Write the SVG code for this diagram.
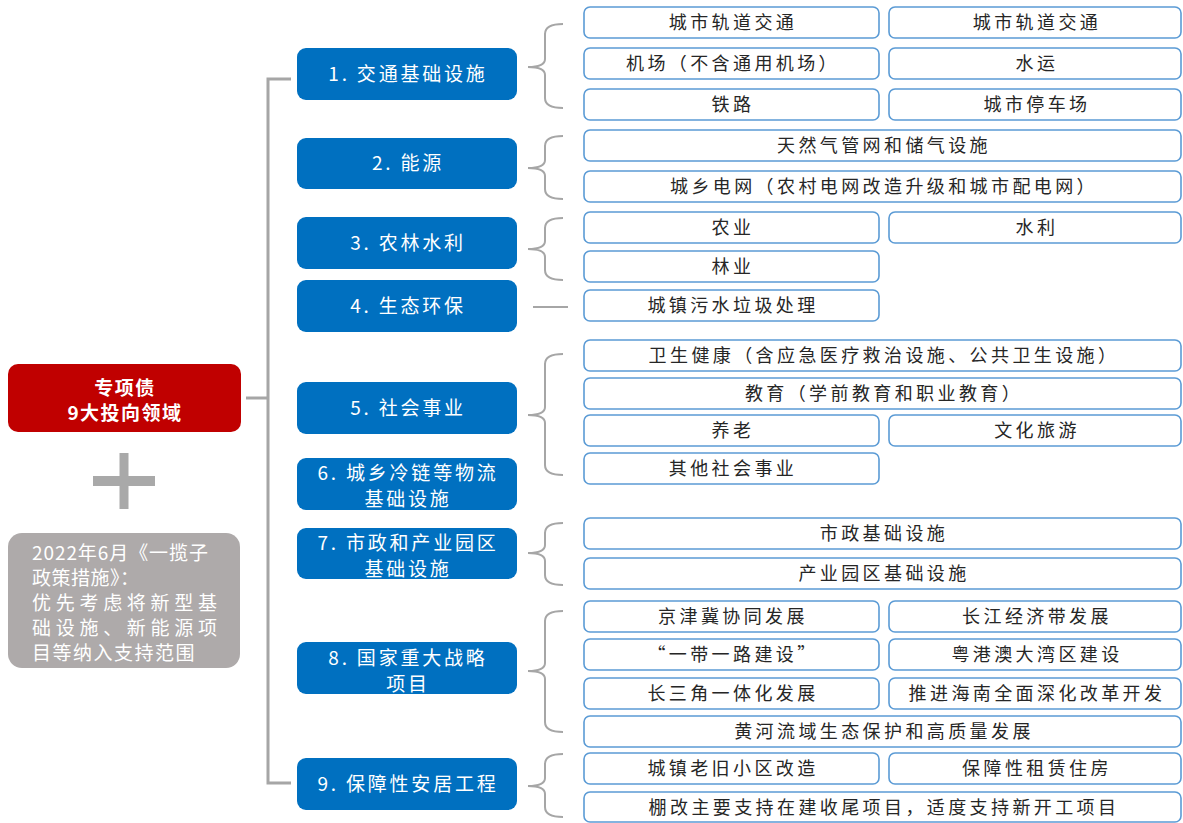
<svg xmlns="http://www.w3.org/2000/svg" width="1183" height="823" viewBox="0 0 1183 823">
<style>
.leaf rect{fill:#fff;stroke:#5B9BD5;stroke-width:1.6}
.leaf text{font-family:"Noto Sans CJK SC","Noto Sans",sans-serif;font-size:18px;letter-spacing:3.4px;fill:#262626;text-anchor:middle}
.cat rect{fill:#0070C0}
.cat text{font-family:"Noto Sans CJK SC","Noto Sans",sans-serif;font-size:19px;letter-spacing:2.8px;fill:#fff;text-anchor:middle}
.conn path{fill:none;stroke:#A6A6A6;stroke-width:2}
.conn .tree{stroke-width:3}
.wt{font-family:"Noto Sans CJK SC","Noto Sans",sans-serif;font-size:19px;fill:#fff}
</style>
<rect width="1183" height="823" fill="#fff"/>

<g class="conn" id="connectors">
<path class="tree" d="M291,79 H268 V783 H291"/>
<path class="tree" d="M246,398 H268"/>
<path d="M563,24 Q545,24 545,34 V59 Q545,67 528,67 Q545,67 545,75 V98 Q545,108 563,108"/>
<path d="M563,136 Q545,136 545,146 V160 Q545,168 528,168 Q545,168 545,176 V189 Q545,199 563,199"/>
<path d="M563,218 Q545,218 545,228 V241 Q545,249 528,249 Q545,249 545,257 V270 Q545,280 563,280"/>
<path d="M533,307 H568"/>
<path d="M563,354 Q545,354 545,364 V407 Q545,415 528,415 Q545,415 545,423 V465 Q545,475 563,475"/>
<path d="M563,523 Q545,523 545,533 V545 Q545,553 528,553 Q545,553 545,561 V575 Q545,585 563,585"/>
<path d="M563,611 Q545,611 545,621 V663 Q545,671 528,671 Q545,671 545,679 V722 Q545,732 563,732"/>
<path d="M563,754 Q545,754 545,764 V778 Q545,786 528,786 Q545,786 545,794 V807 Q545,817 563,817"/>
</g>

<g id="root">
<rect x="8" y="364" width="233" height="68" rx="10" fill="#C00000"/>
<text class="wt" x="125" y="395" text-anchor="middle" letter-spacing="1.5" font-weight="bold">专项债</text>
<text class="wt" x="125" y="420" text-anchor="middle" letter-spacing="1.5" font-weight="bold">9大投向领域</text>
</g>

<g id="plus" fill="#A9A9A9">
<rect x="93" y="476" width="62" height="10"/>
<rect x="119.5" y="453" width="9" height="56"/>
</g>

<g id="note">
<rect x="8" y="533" width="232" height="135" rx="14" fill="#AEAAAA"/>
<text class="wt" x="32" y="560" textLength="176" lengthAdjust="spacing">2022年6月《一揽子</text>
<text class="wt" x="32" y="585" letter-spacing="0.5">政策措施》：</text>
<text class="wt" x="32" y="610" textLength="185" lengthAdjust="spacing">优先考虑将新型基</text>
<text class="wt" x="32" y="635" textLength="185" lengthAdjust="spacing">础设施、新能源项</text>
<text class="wt" x="32" y="660" letter-spacing="1.5">目等纳入支持范围</text>
</g>

<g class="cat" id="cat1"><rect x="297" y="48" width="220" height="52" rx="9"/><text x="408" y="81">1. 交通基础设施</text></g>
<g class="cat" id="cat2"><rect x="297" y="138" width="220" height="51" rx="9"/><text x="408" y="170">2. 能源</text></g>
<g class="cat" id="cat3"><rect x="297" y="217" width="220" height="52" rx="9"/><text x="408" y="250">3. 农林水利</text></g>
<g class="cat" id="cat4"><rect x="297" y="280" width="220" height="52" rx="9"/><text x="408" y="313">4. 生态环保</text></g>
<g class="cat" id="cat5"><rect x="297" y="382" width="220" height="52" rx="9"/><text x="408" y="415">5. 社会事业</text></g>
<g class="cat" id="cat6"><rect x="297" y="458" width="220" height="52" rx="9"/><text x="408" y="480">6. 城乡冷链等物流</text><text x="408" y="506">基础设施</text></g>
<g class="cat" id="cat7"><rect x="297" y="528" width="220" height="51" rx="9"/><text x="408" y="550">7. 市政和产业园区</text><text x="408" y="576">基础设施</text></g>
<g class="cat" id="cat8"><rect x="297" y="642" width="220" height="52" rx="9"/><text x="408" y="665">8. 国家重大战略</text><text x="408" y="691">项目</text></g>
<g class="cat" id="cat9"><rect x="297" y="758" width="220" height="52" rx="9"/><text x="408" y="791">9. 保障性安居工程</text></g>

<g class="leaf" id="l1a"><rect x="584" y="7" width="295" height="31" rx="6"/><text x="733" y="29">城市轨道交通</text></g>
<g class="leaf" id="l1b"><rect x="889" y="7" width="292" height="31" rx="6"/><text x="1037" y="29">城市轨道交通</text></g>
<g class="leaf" id="l2a"><rect x="584" y="48" width="295" height="31" rx="6"/><text x="733" y="70">机场（不含通用机场）</text></g>
<g class="leaf" id="l2b"><rect x="889" y="48" width="292" height="31" rx="6"/><text x="1037" y="70">水运</text></g>
<g class="leaf" id="l3a"><rect x="584" y="89" width="295" height="31" rx="6"/><text x="733" y="111">铁路</text></g>
<g class="leaf" id="l3b"><rect x="889" y="89" width="292" height="31" rx="6"/><text x="1037" y="111">城市停车场</text></g>
<g class="leaf" id="l4"><rect x="584" y="130" width="597" height="31" rx="6"/><text x="884" y="152">天然气管网和储气设施</text></g>
<g class="leaf" id="l5"><rect x="584" y="171" width="597" height="31" rx="6"/><text x="884" y="193">城乡电网（农村电网改造升级和城市配电网）</text></g>
<g class="leaf" id="l6a"><rect x="584" y="212" width="295" height="31" rx="6"/><text x="733" y="234">农业</text></g>
<g class="leaf" id="l6b"><rect x="889" y="212" width="292" height="31" rx="6"/><text x="1037" y="234">水利</text></g>
<g class="leaf" id="l7"><rect x="584" y="251" width="295" height="31" rx="6"/><text x="733" y="273">林业</text></g>
<g class="leaf" id="l8"><rect x="584" y="290" width="295" height="31" rx="6"/><text x="733" y="312">城镇污水垃圾处理</text></g>
<g class="leaf" id="l9"><rect x="584" y="340" width="597" height="31" rx="6"/><text x="884" y="362">卫生健康（含应急医疗救治设施、公共卫生设施）</text></g>
<g class="leaf" id="l10"><rect x="584" y="378" width="597" height="31" rx="6"/><text x="884" y="400">教育（学前教育和职业教育）</text></g>
<g class="leaf" id="l11a"><rect x="584" y="415" width="295" height="31" rx="6"/><text x="733" y="437">养老</text></g>
<g class="leaf" id="l11b"><rect x="889" y="415" width="292" height="31" rx="6"/><text x="1037" y="437">文化旅游</text></g>
<g class="leaf" id="l12"><rect x="584" y="453" width="295" height="31" rx="6"/><text x="733" y="475">其他社会事业</text></g>
<g class="leaf" id="l13"><rect x="584" y="518" width="597" height="31" rx="6"/><text x="884" y="540">市政基础设施</text></g>
<g class="leaf" id="l14"><rect x="584" y="558" width="597" height="31" rx="6"/><text x="884" y="580">产业园区基础设施</text></g>
<g class="leaf" id="l15a"><rect x="584" y="601" width="295" height="31" rx="6"/><text x="733" y="623">京津冀协同发展</text></g>
<g class="leaf" id="l15b"><rect x="889" y="601" width="292" height="31" rx="6"/><text x="1037" y="623">长江经济带发展</text></g>
<g class="leaf" id="l16a"><rect x="584" y="639" width="295" height="31" rx="6"/><text x="733" y="661">“一带一路建设”</text></g>
<g class="leaf" id="l16b"><rect x="889" y="639" width="292" height="31" rx="6"/><text x="1037" y="661">粤港澳大湾区建设</text></g>
<g class="leaf" id="l17a"><rect x="584" y="678" width="295" height="31" rx="6"/><text x="733" y="700">长三角一体化发展</text></g>
<g class="leaf" id="l17b"><rect x="889" y="678" width="292" height="31" rx="6"/><text x="1037" y="700">推进海南全面深化改革开发</text></g>
<g class="leaf" id="l18"><rect x="584" y="716" width="597" height="31" rx="6"/><text x="884" y="738">黄河流域生态保护和高质量发展</text></g>
<g class="leaf" id="l19a"><rect x="584" y="753" width="295" height="31" rx="6"/><text x="733" y="775">城镇老旧小区改造</text></g>
<g class="leaf" id="l19b"><rect x="889" y="753" width="292" height="31" rx="6"/><text x="1037" y="775">保障性租赁住房</text></g>
<g class="leaf" id="l20"><rect x="584" y="792" width="597" height="30" rx="6"/><text x="884" y="814">棚改主要支持在建收尾项目，适度支持新开工项目</text></g>
</svg>
